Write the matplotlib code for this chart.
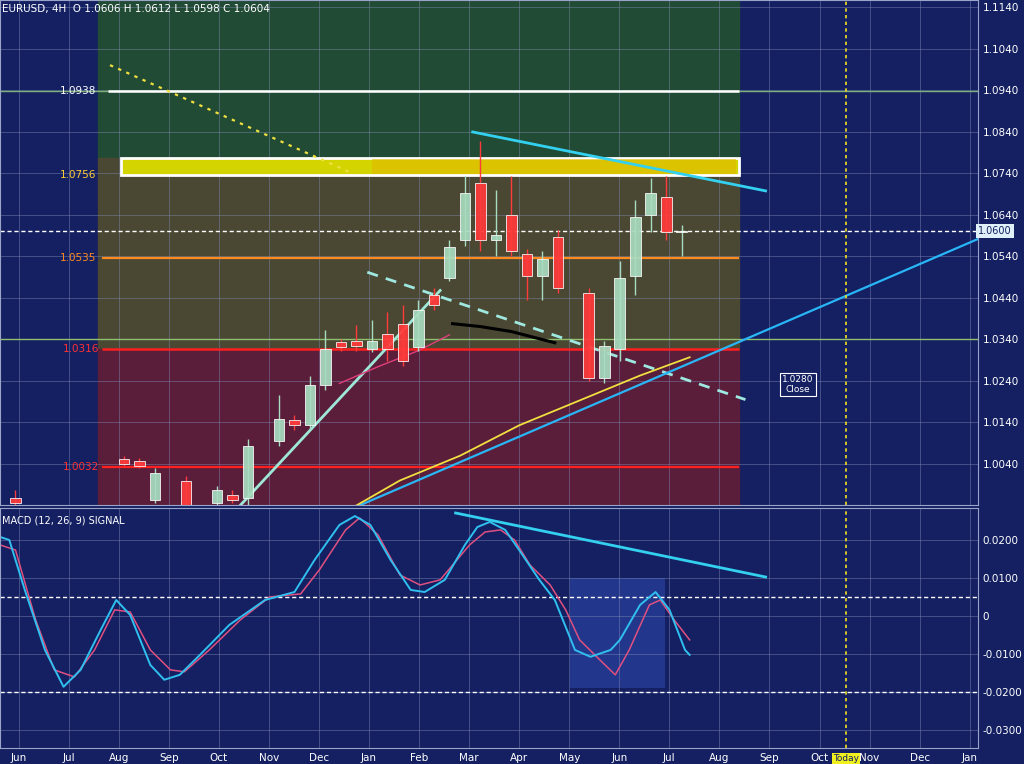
import numpy as np
import matplotlib.pyplot as plt
from matplotlib.patches import Rectangle

# candles: bar index, open, close, high, low
bar_x = [1, 8, 9, 10, 12, 14, 15, 16, 18, 19, 20, 21, 22, 23, 24, 25, 26, 27, 28,
         29, 30, 31, 32, 33, 34, 35, 36, 38, 39, 40, 41, 42, 43, 44]
opens = [0.9958, 1.0052, 1.0047, 0.9951, 0.9999, 0.9944, 0.9963, 0.9958, 1.0095, 1.0144,
         1.0132, 1.0228, 1.0332, 1.0336, 1.0317, 1.0353, 1.0377, 1.0320, 1.0445, 1.0488,
         1.0578, 1.0717, 1.0578, 1.0640, 1.0546, 1.0493, 1.0587, 1.0452, 1.0245, 1.0317,
         1.0491, 1.0638, 1.0683, 1.0597]
closes = [0.9944, 1.0040, 1.0035, 1.0018, 0.9939, 0.9975, 0.9951, 1.0083, 1.0148, 1.0132,
          1.0228, 1.0315, 1.0320, 1.0324, 1.0336, 1.0317, 1.0288, 1.0409, 1.0421, 1.0561,
          1.0691, 1.0578, 1.0590, 1.0553, 1.0493, 1.0534, 1.0462, 1.0245, 1.0324, 1.0488,
          1.0633, 1.0691, 1.0597, 1.0601]
highs = [0.9975, 1.0059, 1.0054, 1.0028, 1.0011, 0.9987, 0.9975, 1.0100, 1.0204, 1.0156,
         1.0252, 1.0361, 1.0341, 1.0373, 1.0385, 1.0404, 1.0421, 1.0433, 1.0462, 1.0578,
         1.0734, 1.0818, 1.0698, 1.0734, 1.0558, 1.0553, 1.0602, 1.0462, 1.0336, 1.0529,
         1.0674, 1.0727, 1.0734, 1.0614]
lows = [0.9939, 1.0033, 1.0028, 0.9944, 0.9939, 0.9939, 0.9944, 0.9939, 1.0083, 1.0120,
        1.0120, 1.0216, 1.0312, 1.0312, 1.0308, 1.0288, 1.0276, 1.0312, 1.0409, 1.0481,
        1.0565, 1.0553, 1.0541, 1.0541, 1.0433, 1.0433, 1.0452, 1.0240, 1.0235, 1.0288,
        1.0445, 1.0597, 1.0578, 1.0541]

# moving average (yellow) and short pink average
ma_x = [23.0, 25.8, 29.7, 33.5, 37.4, 41.3, 44.5]
ma_y = [0.9939, 0.9999, 1.0059, 1.0132, 1.0192, 1.0252, 1.0296]
pink_x = [21.9, 24.5, 27.0, 29.0]
pink_y = [1.0233, 1.0275, 1.0312, 1.0350]
black_x = [29.2, 31.0, 33.0, 35.8]
black_y = [1.0377, 1.0370, 1.0358, 1.0331]

# oscillator
osc_a_x = [0, 0.6, 1.6, 2.9, 4.1, 5.2, 6.5, 7.5, 8.4, 9.7, 10.6, 11.6, 12.9, 14.8, 17.1, 19.0,
           20.3, 21.9, 22.9, 23.9, 25.2, 26.5, 27.4, 28.7, 30.0, 30.8, 31.6, 32.6, 33.5, 34.8,
           35.8, 37.1, 38.1, 39.4, 40.0, 41.3, 42.3, 43.2, 44.2, 44.5]
osc_a_y = [81.6, 80, 53.7, 22.1, 2.7, 11.6, 32.7, 48.4, 40.5, 14.2, 6.4, 9.0, 19.5, 35.3, 48.4,
           52.6, 69.5, 87.9, 92.6, 87.9, 69.5, 53.7, 52.6, 59.0, 77.4, 86.8, 89.5, 85.3, 74.7,
           59.0, 48.4, 22.1, 18.5, 22.1, 27.4, 45.8, 52.6, 43.2, 22.1, 19.5]
osc_b_x = [0, 1.0, 2.3, 3.5, 4.8, 6.1, 7.4, 8.4, 9.7, 11.0, 11.9, 13.5, 15.5, 17.4, 19.4, 20.6,
           22.3, 23.2, 24.4, 25.8, 27.1, 28.4, 30.3, 31.3, 32.3, 33.2, 34.2, 35.5, 36.5, 37.4,
           38.7, 39.7, 40.6, 41.9, 42.6, 43.5, 44.5]
osc_b_y = [77.4, 74.7, 37.9, 11.6, 7.9, 22.1, 43.2, 42.1, 22.1, 11.6, 10.6, 22.1, 37.9, 50,
           51.6, 64.2, 85.3, 91.6, 82.6, 61.6, 56.3, 59.0, 77.4, 84.2, 85.3, 80, 66.8, 56.3,
           43.2, 27.4, 16.9, 9.0, 22.1, 45.8, 48.4, 37.9, 27.4]

price_ticks = [1.0040 + 0.01 * k for k in range(12)]
osc_ticks = [80, 60, 40, 20, 0, -20]
osc_tick_labels = ['0.0200', '0.0100', '0', '-0.0100', '-0.0200', '-0.0300']
months = ['Jun', 'Jul', 'Aug', 'Sep', 'Oct', 'Nov', 'Dec', 'Jan', 'Feb', 'Mar', 'Apr', 'May',
          'Jun', 'Jul', 'Aug', 'Sep', 'Oct', 'Nov', 'Dec', 'Jan']

NAVY = '#142061'
GRID = '#7f8bb5'

fig = plt.figure(figsize=(10.24, 7.64), dpi=100, facecolor=NAVY)
ax = fig.add_axes([0, 0.339, 0.955, 0.661])
ax2 = fig.add_axes([0, 0.021, 0.955, 0.314], sharex=ax)

for a in (ax, ax2):
    a.set_facecolor(NAVY)
    for s in a.spines.values():
        s.set_color('#9aa4c8')
    a.grid(True, color=GRID, lw=0.7, alpha=0.45)
    a.yaxis.tick_right()
    a.tick_params(colors='white', labelsize=7.5, length=0)

xt = np.arange(1.2, 63, 3.23)
ax.set_xlim(0, 63.1)
ax.set_xticks(xt)
ax.set_ylim(0.9940, 1.1157)
ax.set_yticks(price_ticks)
ax.set_yticklabels(['%.4f' % p for p in price_ticks])
plt.setp(ax.get_xticklabels(), visible=False)

# zone backgrounds
ax.axhspan(1.0776, 1.1157, xmin=6.3 / 63.1, xmax=47.7 / 63.1, color='#214b34', zorder=0)
ax.axhspan(1.0316, 1.0776, xmin=6.3 / 63.1, xmax=47.7 / 63.1, color='#4a4732', zorder=0)
ax.axhspan(0.9940, 1.0316, xmin=6.3 / 63.1, xmax=47.7 / 63.1, color='#5a1e3b', zorder=0)

# levels
ax.axhline(1.0938, color='#7fb07a', lw=1)
ax.hlines(1.0938, 7, 47.7, color='white', lw=1.8)
ax.axhline(1.0340, color='#8fbf70', lw=1)
ax.hlines(1.0535, 6.6, 47.7, color='#ff8a1e', lw=1.6)
ax.hlines(1.0316, 6.6, 47.7, color='#ff2020', lw=1.8)
ax.hlines(1.0032, 6.6, 47.7, color='#ff2020', lw=1.6)
ax.axhline(1.0600, color='white', lw=1, ls=(0, (3, 2)))
ax.add_patch(Rectangle((7.8, 1.0735), 39.9, 0.0041, facecolor='#d4d400', edgecolor='white', lw=2, zorder=2))
ax.add_patch(Rectangle((24.0, 1.0737), 23.5, 0.0037, facecolor='#e0b800', edgecolor='none', alpha=0.6, zorder=2))

ax.text(6.2, 1.0938, '1.0938', color='white', fontsize=7.5, ha='right', va='center')
ax.text(6.2, 1.0735, '1.0756', color='#ffcc33', fontsize=7.5, ha='right', va='center')
ax.text(6.2, 1.0535, '1.0535', color='#ff8a1e', fontsize=7.5, ha='right', va='center')
ax.text(6.4, 1.0316, '1.0316', color='#ff3030', fontsize=7.5, ha='right', va='center')
ax.text(6.4, 1.0032, '1.0032', color='#ff3030', fontsize=7.5, ha='right', va='center')
ax.text(0.1, 1.1135, 'EURUSD, 4H  O 1.0606 H 1.0612 L 1.0598 C 1.0604 ', color='white', fontsize=7.5, va='center')

# trend lines
ax.plot([7.1, 22.7], [1.1000, 1.0740], color='#f0e040', lw=1.6, ls=(0, (1.5, 2.5)))
ax.plot([30.5, 49.4], [1.0839, 1.0697], color='#33d0f0', lw=2)
ax.plot([23.7, 48.1], [1.0501, 1.0194], color='#9fe8e0', lw=2, ls=(0, (4, 3)))
ax.plot([15.5, 28.4], [0.9939, 1.0457], color='#9fe8d8', lw=2)
ax.plot([23.2, 63.1], [0.9939, 1.0581], color='#29b6f6', lw=1.6)
ax.plot(ma_x, ma_y, color='#f0e040', lw=1.3)
ax.plot(pink_x, pink_y, color='#e0407a', lw=1)
ax.plot(black_x, black_y, color='black', lw=2.2)

# candles
for x, o, c, h, l in zip(bar_x, opens, closes, highs, lows):
    col = '#a8dcc0' if c >= o else '#ff3b3b'
    ax.vlines(x, l, h, color=col, lw=1)
    ax.add_patch(Rectangle((x - 0.35, min(o, c)), 0.7, max(abs(c - o), 0.0004),
                           facecolor=col, edgecolor='white', lw=0.6, alpha=0.92, zorder=3))

ax.axvline(54.6, color='#f0e020', lw=1.2, ls=(0, (2, 2)))
ax.text(51.5, 1.0230, '1.0280\nClose', color='white', fontsize=6.5, ha='center', va='center',
        bbox=dict(facecolor=NAVY, edgecolor='white', lw=0.8, pad=1.5))
ax.text(1.0005, 1.0600, '1.0600', transform=ax.get_yaxis_transform(), color=NAVY, fontsize=7,
        va='center', bbox=dict(facecolor='#e0f0f8', edgecolor='none', pad=1.5))

# oscillator panel
ax2.set_ylim(-29.5, 96.8)
ax2.set_yticks(osc_ticks)
ax2.set_yticklabels(osc_tick_labels)
ax2.set_xticks(xt)
ax2.set_xticklabels(months[:len(xt)])
ax2.axhline(50, color='white', lw=1, ls=(0, (3, 2)))
ax2.axhline(0, color='white', lw=1, ls=(0, (3, 2)))
ax2.add_patch(Rectangle((36.8, 2), 6.1, 58, facecolor='#2d48a8', alpha=0.6, zorder=1))
ax2.plot(osc_b_x, osc_b_y, color='#e05080', lw=1.1)
ax2.plot(osc_a_x, osc_a_y, color='#2fc0f0', lw=1.4)
ax2.plot([29.4, 49.4], [94.2, 60.5], color='#33d0f0', lw=2)
ax2.axvline(54.6, color='#f0e020', lw=1.2, ls=(0, (2, 2)))
ax2.text(0.1, 90, 'MACD (12, 26, 9) SIGNAL', color='white', fontsize=7, va='center')
ax2.text(54.6, -0.045, 'Today', transform=ax2.get_xaxis_transform(), color=NAVY, fontsize=6.5,
         ha='center', va='center', bbox=dict(facecolor='#f0f020', edgecolor='none', pad=0.8))

fig.savefig('out.png', dpi=100, facecolor=NAVY)
